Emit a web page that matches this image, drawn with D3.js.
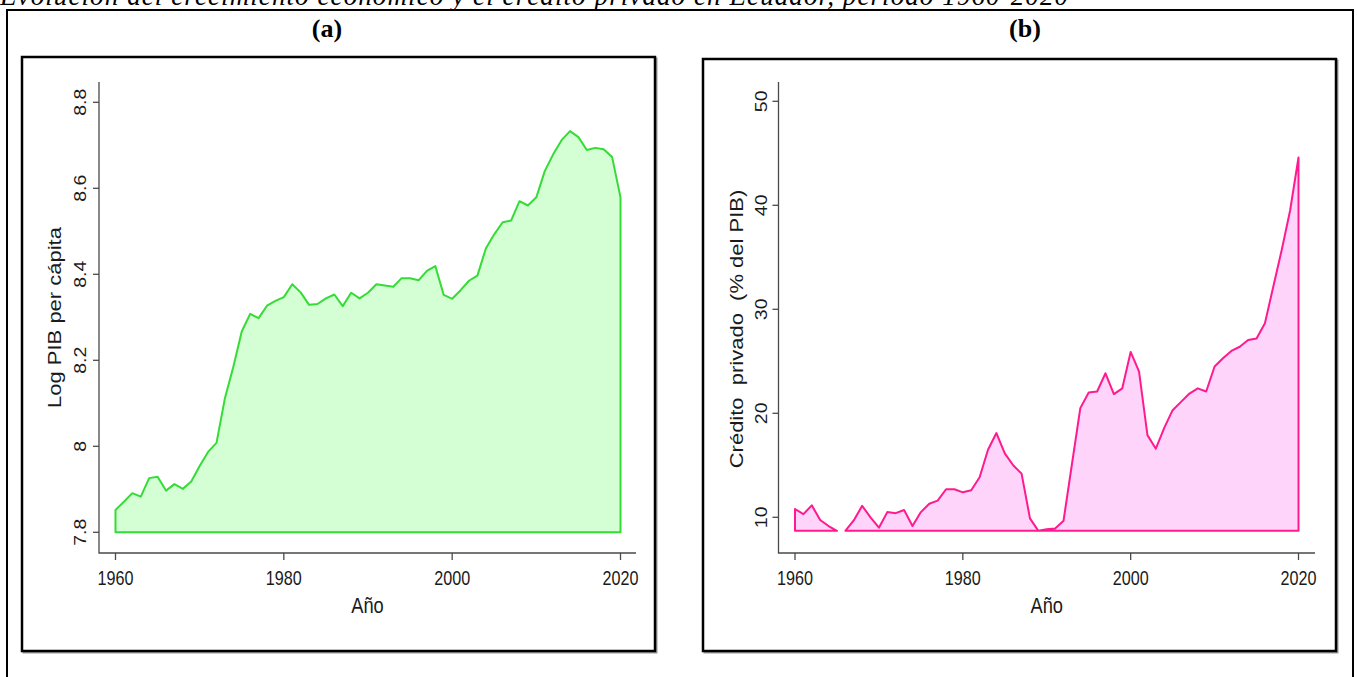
<!DOCTYPE html>
<html>
<head>
<meta charset="utf-8">
<script src="https://cdn.jsdelivr.net/npm/d3@7"></script>
<style>
  html, body { margin: 0; padding: 0; background: #fff; }
  svg { display: block; }
</style>
</head>
<body>
<svg id="fig" width="1357" height="677"></svg>
<script>
// ---- data -------------------------------------------------------------
const years = d3.range(1960, 2021);

// Log of GDP per capita, Ecuador, 1960-2020
const logGdp = [
  7.852, 7.871, 7.891, 7.883, 7.926, 7.929, 7.897, 7.912, 7.901, 7.918,
  7.954, 7.987, 8.008, 8.112, 8.185, 8.267, 8.308, 8.298, 8.327, 8.338,
  8.347, 8.377, 8.358, 8.329, 8.331, 8.344, 8.353, 8.326, 8.357, 8.344,
  8.357, 8.377, 8.374, 8.371, 8.391, 8.391, 8.386, 8.408, 8.419, 8.352,
  8.343, 8.363, 8.385, 8.397, 8.460, 8.493, 8.521, 8.525, 8.570, 8.560,
  8.579, 8.640, 8.679, 8.712, 8.733, 8.719, 8.689, 8.694, 8.691, 8.673,
  8.579
];

// Domestic credit to the private sector (% of GDP), 1960-2020
const credit = [
  10.8, 10.3, 11.15, 9.74, 9.16, 8.7, 8.7, 9.7, 11.1, 10.0,
  9.0, 10.5, 10.4, 10.7, 9.16, 10.5, 11.3, 11.6, 12.7, 12.7,
  12.4, 12.6, 13.85, 16.5, 18.1, 16.15, 15.0, 14.2, 9.9, 8.7,
  8.85, 8.93, 9.67, 15.1, 20.5, 22.0, 22.1, 23.85, 21.85, 22.4,
  25.9, 24.0, 17.9, 16.6, 18.6, 20.3, 21.1, 21.9, 22.4, 22.1,
  24.5, 25.3, 26.0, 26.4, 27.05, 27.2, 28.65, 32.2, 35.7, 39.5,
  44.6
];
// the credit series is broken after these years
const creditBreakAfter = [1965];

const yearTicks = [1960, 1980, 2000, 2020];
const gdpTicks = [7.8, 8, 8.2, 8.4, 8.6, 8.8];
const gdpTickLabels = ["7.8", "8", "8.2", "8.4", "8.6", "8.8"];
const creditTicks = [10, 20, 30, 40, 50];
const creditTickLabels = ["10", "20", "30", "40", "50"];

const figTitle = "Evolución del crecimiento económico y el crédito privado en Ecuador, período 1960-2020";

// ---- drawing ----------------------------------------------------------
const svg = d3.select("#fig");
const SANS = "'Liberation Sans', Arial, sans-serif";
const SERIF = "'Liberation Serif', 'Times New Roman', serif";
const SQ = 0.83; // glyphs in the panels are drawn slightly narrow

function hText(g, x, y, str, size, color) {
  g.append("text")
    .attr("transform", `translate(${x},${y}) scale(${SQ},1)`)
    .attr("text-anchor", "middle")
    .attr("dominant-baseline", "central")
    .attr("font-family", SANS)
    .attr("font-size", size)
    .attr("fill", color || "#1a1a1a")
    .text(str);
}
function vText(g, x, y, str, size, color) {
  g.append("text")
    .attr("transform", `translate(${x},${y}) rotate(-90) scale(1,${SQ})`)
    .attr("text-anchor", "middle")
    .attr("dominant-baseline", "central")
    .attr("font-family", SANS)
    .attr("font-size", size)
    .attr("fill", color || "#1a1a1a")
    .style("white-space", "pre")
    .text(str);
}

// page title (partly above the frame)
svg.append("text")
  .attr("x", 0).attr("y", 5)
  .attr("font-family", SERIF)
  .attr("font-style", "italic")
  .attr("font-size", 27)
  .attr("textLength", 1068)
  .attr("lengthAdjust", "spacing")
  .attr("fill", "#000")
  .text(figTitle);

// outer frame
svg.append("rect")
  .attr("x", 7).attr("y", 10).attr("width", 1346).attr("height", 700)
  .attr("fill", "none").attr("stroke", "#000").attr("stroke-width", 2);

// panel captions
svg.append("text").attr("x", 327).attr("y", 37)
  .attr("text-anchor", "middle").attr("font-family", SERIF)
  .attr("font-weight", "bold").attr("font-size", 26).text("(a)");
svg.append("text").attr("x", 1025).attr("y", 37)
  .attr("text-anchor", "middle").attr("font-family", SERIF)
  .attr("font-weight", "bold").attr("font-size", 26).text("(b)");

const panels = [
  {
    box: { x: 22, y: 57, w: 633, h: 594 },
    plot: { left: 99, right: 636, top: 82, bottom: 553 },
    xRange: [115.5, 620.5],
    yDomain: [7.8, 8.8], yRange: [532.3, 102.3],
    values: logGdp, breaks: [],
    baseline: gdpTicks[0],
    ticks: gdpTicks, tickLabels: gdpTickLabels,
    yTitle: "Log PIB per cápita", yTitleX: 55, yTitleY: 317.5,
    labelX: 81,
    line: "#35dc35", fill: "#d4fed4"
  },
  {
    box: { x: 703, y: 59, w: 633, h: 592 },
    plot: { left: 778.5, right: 1315, top: 82, bottom: 553 },
    xRange: [795, 1298.5],
    yDomain: [10, 50], yRange: [517.3, 101.3],
    values: credit, breaks: creditBreakAfter,
    baseline: d3.min(credit),
    ticks: creditTicks, tickLabels: creditTickLabels,
    yTitle: "Crédito  privado  (% del PIB)", yTitleX: 737, yTitleY: 329,
    labelX: 762,
    line: "#ff1a8f", fill: "#ffd4fa"
  }
];

panels.forEach(p => {
  const g = svg.append("g");

  // panel box with a soft shadow
  g.append("rect")
    .attr("x", p.box.x + 1.5).attr("y", p.box.y + 1.5)
    .attr("width", p.box.w).attr("height", p.box.h)
    .attr("fill", "none").attr("stroke", "#9a9a9a").attr("stroke-width", 2);
  g.append("rect")
    .attr("x", p.box.x).attr("y", p.box.y)
    .attr("width", p.box.w).attr("height", p.box.h)
    .attr("fill", "#fff").attr("stroke", "#000").attr("stroke-width", 2.5);

  const x = d3.scaleLinear().domain([1960, 2020]).range(p.xRange);
  const y = d3.scaleLinear().domain(p.yDomain).range(p.yRange);

  // split series into runs at the break years
  const pts = years.map((yr, i) => ({ yr, v: p.values[i] }));
  const runs = [];
  let cur = [];
  pts.forEach(d => {
    cur.push(d);
    if (p.breaks.includes(d.yr)) { runs.push(cur); cur = []; }
  });
  if (cur.length) runs.push(cur);

  const area = d3.area()
    .x(d => x(d.yr))
    .y0(y(p.baseline))
    .y1(d => y(d.v));

  runs.forEach(run => {
    g.append("path")
      .attr("d", area(run))
      .attr("fill", p.fill)
      .attr("stroke", p.line)
      .attr("stroke-width", 2)
      .attr("stroke-linejoin", "round");
  });

  // L-shaped axes
  const axCol = "#4a4a4a";
  g.append("path")
    .attr("d", `M${p.plot.left},${p.plot.top}V${p.plot.bottom}H${p.plot.right}`)
    .attr("fill", "none").attr("stroke", axCol).attr("stroke-width", 1.3);

  // x axis ticks + labels
  yearTicks.forEach(t => {
    g.append("line")
      .attr("x1", x(t)).attr("x2", x(t))
      .attr("y1", p.plot.bottom).attr("y2", p.plot.bottom + 7)
      .attr("stroke", axCol).attr("stroke-width", 1.3);
    hText(g, x(t), 578, String(t), 19.5);
  });

  // y axis ticks + labels
  p.ticks.forEach((t, i) => {
    g.append("line")
      .attr("x1", p.plot.left - 6).attr("x2", p.plot.left)
      .attr("y1", y(t)).attr("y2", y(t))
      .attr("stroke", axCol).attr("stroke-width", 1.3);
    vText(g, p.labelX, y(t), p.tickLabels[i], 19.5);
  });

  // axis titles
  hText(g, (p.plot.left + p.plot.right) / 2, 605, "Año", 22);
  vText(g, p.yTitleX, p.yTitleY, p.yTitle, 22);
});
</script>
</body>
</html>
